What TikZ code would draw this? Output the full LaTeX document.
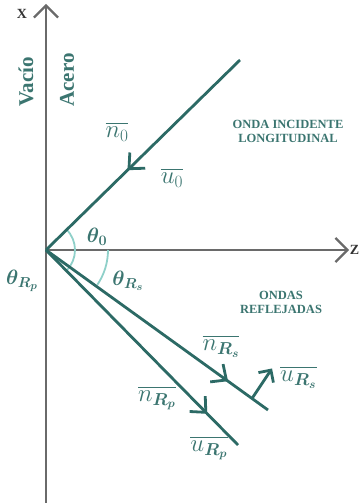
\documentclass[tikz,border=0pt]{standalone}
\usepackage{fontspec}
\setmainfont{Liberation Serif}
\usepackage{amsmath,bm}
\usetikzlibrary{arrows.meta,decorations.markings,calc}
\definecolor{rayteal}{HTML}{2C6A65}
\definecolor{axisgray}{HTML}{6A6A6A}
\definecolor{arcteal}{HTML}{8FD0C9}
\definecolor{labteal}{HTML}{3B7570}
\begin{document}
\begin{tikzpicture}[x=1pt,y=1pt,
  axis/.style={draw=axisgray,line width=2.2pt},
  ray/.style={draw=rayteal,line width=2.8pt},
  anglearc/.style={draw=arcteal,line width=1.8pt},
  midarrow/.style={postaction={decorate},decoration={markings,
     mark=at position #1 with {\arrow{Straight Barb[length=12pt,width=22pt]}}}},
  axlab/.style={text=black!80,font=\bfseries\fontsize{14}{16}\selectfont,inner sep=0pt},
  medium/.style={text=labteal,font=\bfseries\fontsize{21}{24}\selectfont,rotate=90,inner sep=0pt},
  wave/.style={text=labteal,font=\bfseries\fontsize{12.5}{14}\selectfont,align=center,inner sep=0pt},
  vec/.style={text=labteal,font=\fontsize{23}{26}\selectfont,inner sep=0pt},
  ang/.style={text=labteal,font=\fontsize{21}{24}\selectfont,inner sep=0pt}]
\useasboundingbox (0,0) rectangle (360,-503);
\coordinate (O) at (46,-250);
\coordinate (Xtop) at (46,-4);
\coordinate (Xbot) at (46,-503);
\coordinate (Zend) at (349,-250);
\coordinate (I) at (240,-60);
\coordinate (S) at (268,-410);
\coordinate (P) at (238,-445);
% axes
\draw[axis,-{Straight Barb[length=12pt,width=24pt]}] (Xbot) -- (Xtop);
\draw[axis,-{Straight Barb[length=12pt,width=24pt]}] (O) -- (Zend);
% angle arcs
\draw[anglearc] ($(O)+(45:29)$) arc[start angle=45,end angle=-45,radius=29];
\draw[anglearc] ($(O)+(0:62)$) arc[start angle=0,end angle=-34,radius=62];
% rays
\draw[ray,midarrow=0.58] (I) -- (O);
\draw[ray,midarrow=0.82] (O) -- (S);
\draw[ray,midarrow=0.84] (O) -- (P);
\coordinate (A) at ($(O)!0.928!(S)$);
\coordinate (B) at ($(A)+(20,30)$);
\draw[ray,-{Straight Barb[length=9pt,width=18pt]}] (A) -- (B);
% labels
\node[axlab] (xl) at (22,-14) {X};
\node[axlab,anchor=east] (zl) at (359.5,-250) {Z};
\node[medium] (vac) at (26,-82) {Vacío};
\node[medium] (ace) at (67,-80) {Acero};
\node[wave] (inc) at (288,-131) {ONDA INCIDENTE\\LONGITUDINAL};
\node[wave] (ref) at (281,-302) {ONDAS\\REFLEJADAS};
\node[vec] (n0) at (117,-132) {$\overline{n_0}$};
\node[vec] (u0) at (172,-178) {$\overline{u_0}$};
\node[vec] (nrs) at (221,-346) {$\overline{n_{\bm{R_s}}}$};
\node[vec,anchor=west] (urs) at (280,-377) {$\overline{u_{\bm{R_s}}}$};
\node[vec] (nrp) at (157,-398) {$\overline{n_{\bm{R_p}}}$};
\node[vec] (urp) at (209,-448) {$\overline{u_{\bm{R_p}}}$};
\node[ang] (t0) at (97,-237) {$\bm{\theta_0}$};
\node[ang] (trs) at (128,-281) {$\bm{\theta_{R_s}}$};
\node[ang] (trp) at (22,-281) {$\bm{\theta_{R_p}}$};
\end{tikzpicture}
\end{document}
